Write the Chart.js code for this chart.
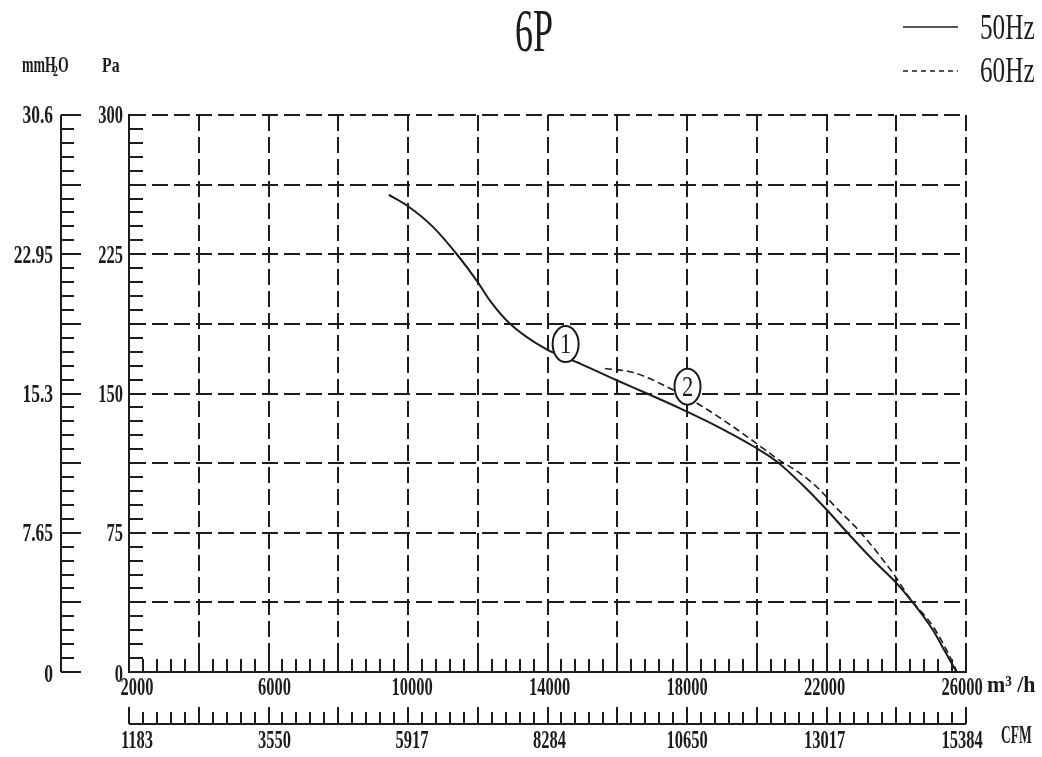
<!DOCTYPE html>
<html><head><meta charset="utf-8">
<script src="https://cdn.jsdelivr.net/npm/chart.js@4.4.1/dist/chart.umd.min.js"></script>
<style>html,body{margin:0;padding:0;background:#fff;}canvas{display:block;}</style>
</head><body>
<canvas id="c" width="1042" height="757"></canvas>
<script>
// ---- data ----
const chartTitle = '6P';
const seriesNames = ['50Hz', '60Hz'];
const flow50 = [9450, 9950, 10700, 11400, 12000, 12350, 12900, 13950, 14950, 16000, 16850, 17800, 19000, 20000, 20600, 21300, 22000, 22600, 23300, 24000, 24450, 25050, 25400, 25730];
const pa50   = [257, 251.5, 240, 225, 210, 200, 188, 174, 166, 157, 150, 142, 131, 120.5, 113, 101, 87.5, 75, 61, 48, 38, 22.6, 11, 0];
const flow60 = [15650, 16460, 17415, 18380, 19330, 20000, 20575, 21240, 21815, 22200, 22960, 23915, 24390, 25060, 25630, 25740];
const pa60   = [163.5, 161.3, 153.7, 143.7, 132, 123, 115, 107, 98, 90, 75.5, 53, 39.7, 24.4, 4.7, 0];
const flowTicks  = [2000, 6000, 10000, 14000, 18000, 22000, 26000];
const flowLabels = ['2000', '6000', '10000', '14000', '18000', '22000', '26000'];
const cfmLabels  = ['1183', '3550', '5917', '8284', '10650', '13017', '15384'];
const paTicks    = [0, 75, 150, 225, 300];
const paLabels   = ['0', '75', '150', '225', '300'];
const mmLabels   = ['0', '7.65', '15.3', '22.95', '30.6'];
const markerFlow = [14520, 18015];
const markerPa   = [176.6, 153.7];
const markerText = ['1', '2'];

const INK = '#1c1c1c';
const SERIF = '"Liberation Serif", "DejaVu Serif", serif';

function txt(ctx, s, x, y, size, o) {
  o = o || {};
  ctx.save();
  ctx.translate(x, y);
  ctx.scale(o.sx || 0.7, 1);
  ctx.font = (o.weight || 'bold') + ' ' + size + 'px ' + SERIF;
  ctx.textAlign = o.align || 'center';
  ctx.textBaseline = o.baseline || 'middle';
  ctx.fillStyle = INK;
  ctx.fillText(s, 0, 0);
  ctx.restore();
}
function seg(ctx, x1, y1, x2, y2) {
  ctx.beginPath(); ctx.moveTo(x1, y1); ctx.lineTo(x2, y2); ctx.stroke();
}

const deco = {
  id: 'deco',
  afterDraw(chart) {
    const ctx = chart.ctx, x = chart.scales.x, y = chart.scales.y, a = chart.chartArea;
    ctx.save();
    ctx.strokeStyle = INK; ctx.lineWidth = 2; ctx.setLineDash([]);
    const bottom = Math.round(a.bottom), left = Math.round(a.left);
    // minor ticks along flow axis (inside) and CFM axis
    const cfmY = 724;
    seg(ctx, left, cfmY, Math.round(a.right), cfmY);
    for (let q = x.min; q <= x.max + 1; q += 400) {
      const px = Math.round(x.getPixelForValue(q));
      seg(ctx, px, bottom, px, bottom - 13);
      const major = Math.abs(((q - x.min) % 2000)) < 1;
      seg(ctx, px, cfmY, px, cfmY - (major ? 17 : 12));
    }
    // minor ticks along Pa axis (inside) and mmH2O axis
    const mmX = 61;
    seg(ctx, mmX, Math.round(a.top), mmX, bottom);
    for (let p = y.min; p <= y.max + 0.01; p += 7.5) {
      const py = Math.round(y.getPixelForValue(p));
      seg(ctx, left, py, left + 14, py);
      const major = Math.abs(p % 37.5) < 0.01;
      seg(ctx, mmX, py, mmX + (major ? 20 : 13), py);
    }
    // tick labels (slightly pulled inward, as in the original drawing)
    const n = flowTicks.length - 1;
    flowTicks.forEach((q, i) => {
      const px = x.getPixelForValue(q) + 8 - 12 * i / n;
      txt(ctx, flowLabels[i], px, 689, 25, {sx: 0.66});
      txt(ctx, cfmLabels[i], px, 742, 25, {sx: 0.66});
    });
    paTicks.forEach((p, i) => {
      const py = y.getPixelForValue(p) + (p === 0 ? 4 : 2);
      txt(ctx, paLabels[i], 123, py, 25, {align: 'right', sx: 0.66});
      txt(ctx, mmLabels[i], 53, py, 25, {align: 'right', sx: 0.7});
    });
    // axis unit titles
    txt(ctx, 'mmH', 22, 66, 23, {align: 'left', sx: 0.6});
    txt(ctx, '2', 53, 72, 14, {align: 'left', sx: 0.7});
    txt(ctx, 'O', 58, 66, 23, {align: 'left', sx: 0.6});
    txt(ctx, 'Pa', 102, 66, 22, {align: 'left', sx: 0.72});
    txt(ctx, 'm³ /h', 987, 686, 23, {align: 'left', sx: 0.95});
    txt(ctx, 'CFM', 1001, 736, 26, {align: 'left', sx: 0.52});
    // title
    txt(ctx, chartTitle, 534, 35, 62, {weight: 'normal', sx: 0.58});
    // legend
    ctx.lineWidth = 1.5;
    seg(ctx, 903, 27, 958, 27);
    ctx.setLineDash([5, 4]);
    seg(ctx, 903, 71, 958, 71);
    ctx.setLineDash([]);
    txt(ctx, seriesNames[0], 980, 30, 36, {align: 'left', weight: 'normal', sx: 0.7});
    txt(ctx, seriesNames[1], 980, 73, 36, {align: 'left', weight: 'normal', sx: 0.7});
    // curve markers
    ctx.lineWidth = 2;
    markerFlow.forEach((q, i) => {
      const px = x.getPixelForValue(q), py = y.getPixelForValue(markerPa[i]);
      ctx.fillStyle = '#fff';
      ctx.beginPath(); ctx.ellipse(px, py, 13, 18, 0, 0, Math.PI * 2); ctx.fill(); ctx.stroke();
      txt(ctx, markerText[i], px, py + 1, 30, {weight: 'normal', sx: 0.75});
    });
    ctx.restore();
  }
};

const gridStyle = {color: INK, lineWidth: 2, drawTicks: false};
new Chart(document.getElementById('c'), {
  type: 'line',
  data: {
    datasets: [
      {label: seriesNames[0], data: flow50.map((q, i) => ({x: q, y: pa50[i]})),
       borderColor: INK, borderWidth: 2, pointRadius: 0, cubicInterpolationMode: 'monotone', fill: false},
      {label: seriesNames[1], data: flow60.map((q, i) => ({x: q, y: pa60[i]})),
       borderColor: INK, borderWidth: 1.6, borderDash: [7, 4], pointRadius: 0, cubicInterpolationMode: 'monotone', fill: false}
    ]
  },
  options: {
    responsive: false, animation: false, devicePixelRatio: 1,
    layout: {padding: {left: 129, right: 76, top: 115, bottom: 85}},
    plugins: {legend: {display: false}, title: {display: false}, tooltip: {enabled: false}},
    scales: {
      x: {type: 'linear', min: 2000, max: 26000,
          ticks: {display: false, stepSize: 2000},
          grid: gridStyle, border: {display: true, color: INK, width: 2, dash: [16, 6]}},
      y: {type: 'linear', min: 0, max: 300,
          ticks: {display: false, stepSize: 37.5},
          grid: gridStyle, border: {display: true, color: INK, width: 2, dash: [16, 6]}}
    }
  },
  plugins: [deco]
});
</script>
</body></html>
